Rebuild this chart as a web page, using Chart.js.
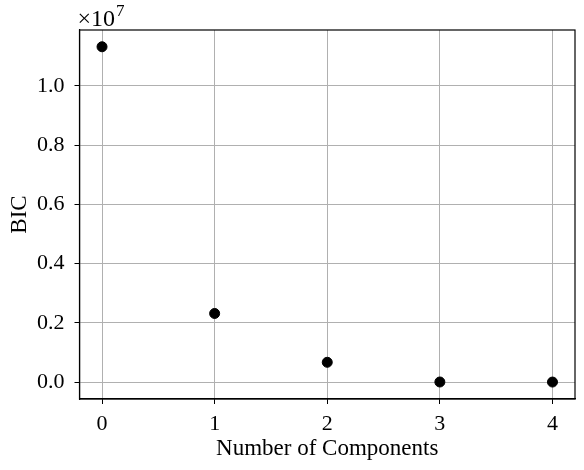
<!DOCTYPE html>
<html>
<head>
<meta charset="utf-8">
<script src="https://cdn.jsdelivr.net/npm/chart.js@4/dist/chart.umd.min.js"></script>
<style>
  html, body { margin: 0; padding: 0; background: #fff; }
  #wrap { width: 584px; height: 470px; }
</style>
</head>
<body>
<div id="wrap"><canvas id="myChart"></canvas></div>
<script>
// number of components on x, BIC on y
var components = [0, 1, 2, 3, 4];
var bicValues = [11320000, 2320000, 673000, 8000, 6000];
var xTicks = [0, 1, 2, 3, 4];
var yTicks = [0, 2000000, 4000000, 6000000, 8000000, 10000000];

var FONT = "'Liberation Serif', 'DejaVu Serif', serif";

// frame round the plot + the offset text above the y axis
var framePlugin = {
  id: 'frame',
  afterDraw: function (chart) {
    var a = chart.chartArea;
    var ctx = chart.ctx;
    ctx.save();
    ctx.strokeStyle = '#000';
    ctx.lineWidth = 1.2;
    ctx.strokeRect(a.left, a.top, a.right - a.left, a.bottom - a.top);

    ctx.fillStyle = '#000';
    ctx.textBaseline = 'alphabetic';
    ctx.textAlign = 'left';
    ctx.font = '24px ' + FONT;
    var x = a.left - 2;
    ctx.fillText('\u00d710', x, 26);
    var w = ctx.measureText('\u00d710').width;
    ctx.font = '17px ' + FONT;
    ctx.fillText('7', x + w + 1, 16);
    ctx.restore();
  }
};

function createChart() {
  var ctx = document.getElementById('myChart').getContext('2d');
  var data = components.map(function (c, i) { return { x: c, y: bicValues[i] }; });

  new Chart(ctx, {
    type: 'scatter',
    data: {
      datasets: [{
        data: data,
        backgroundColor: '#000',
        borderColor: '#000',
        pointRadius: 5,
        pointHoverRadius: 5
      }]
    },
    options: {
      responsive: false,
      animation: false,
      plugins: { legend: { display: false }, tooltip: { enabled: false } },
      layout: { padding: { top: 30, right: 9, left: 0, bottom: 0 } },
      scales: {
        x: {
          type: 'linear',
          min: -0.2,
          max: 4.2,
          afterBuildTicks: function (scale) {
            scale.ticks = xTicks.map(function (v) { return { value: v }; });
          },
          afterFit: function (scale) { scale.height = 71; },
          grid: { color: '#b0b0b0', lineWidth: 1, tickColor: '#000', tickLength: 5 },
          border: { color: '#000', width: 1.2 },
          ticks: {
            color: '#000',
            font: { family: FONT, size: 22 },
            padding: 7,
            callback: function (v) { return String(v); }
          },
          title: {
            display: true,
            text: 'Number of Components',
            color: '#000',
            font: { family: FONT, size: 23 },
            padding: { top: 0, bottom: 7 }
          }
        },
        y: {
          type: 'linear',
          min: -566000,
          max: 11886000,
          afterBuildTicks: function (scale) {
            scale.ticks = yTicks.map(function (v) { return { value: v }; });
          },
          afterFit: function (scale) { scale.width = 79.5; },
          grid: { color: '#b0b0b0', lineWidth: 1, tickColor: '#000', tickLength: 5 },
          border: { color: '#000', width: 1.2 },
          ticks: {
            color: '#000',
            font: { family: FONT, size: 22 },
            padding: 10,
            callback: function (v) { return (v / 1e7).toFixed(1); }
          },
          title: {
            display: true,
            text: 'BIC',
            color: '#000',
            font: { family: FONT, size: 23 },
            padding: { top: 6, bottom: 0 }
          }
        }
      }
    },
    plugins: [framePlugin]
  });
}

var c = document.getElementById('myChart');
c.width = 584;
c.height = 470;
createChart();
</script>
</body>
</html>
